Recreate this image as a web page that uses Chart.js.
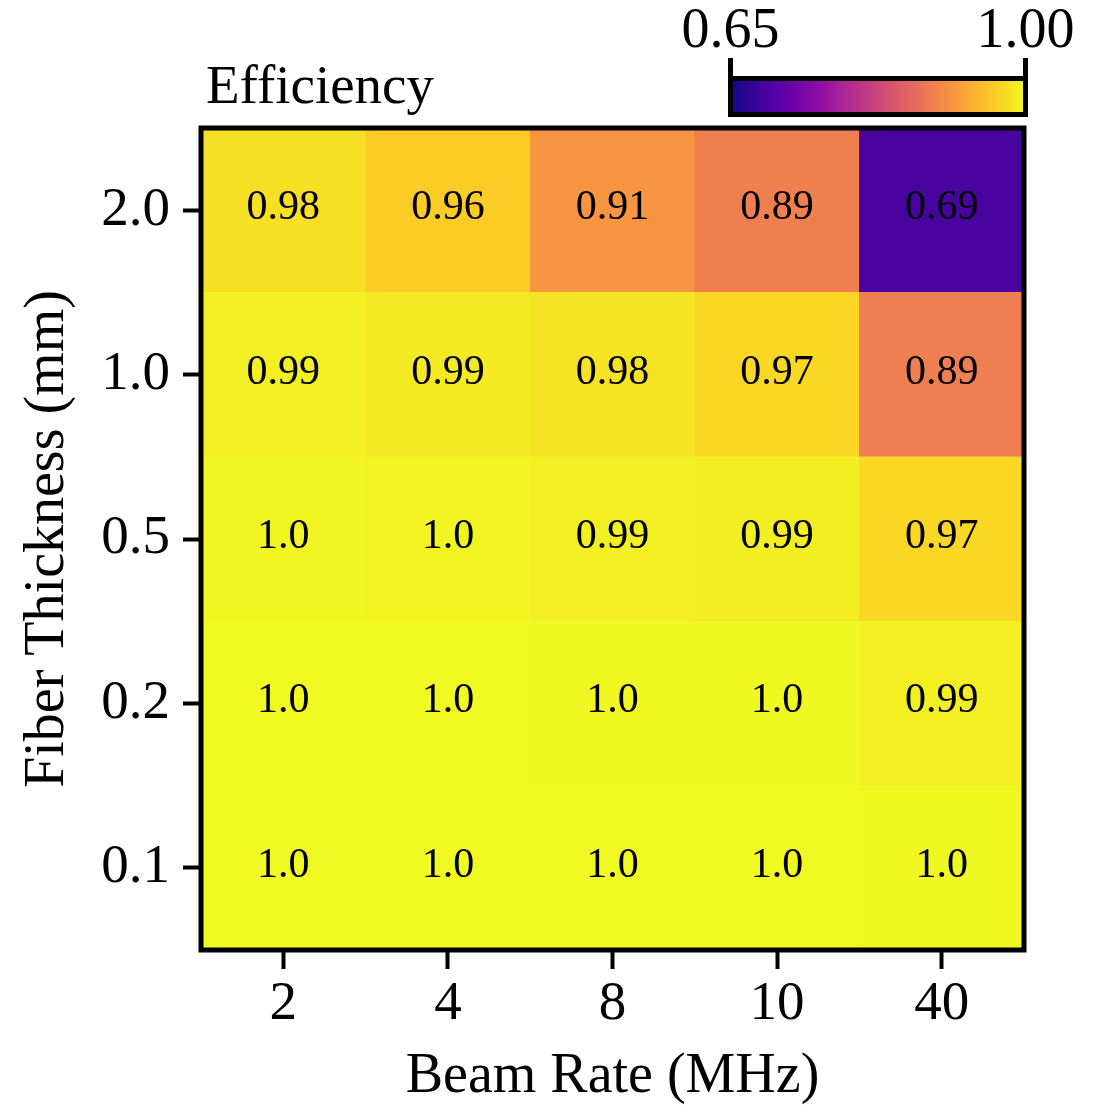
<!DOCTYPE html>
<html>
<head>
<meta charset="utf-8">
<script src="https://cdn.jsdelivr.net/npm/chart.js@4.4.1/dist/chart.umd.min.js"></script>
<style>
  body { margin: 0; background: #fff; }
  #wrap { width: 1102px; height: 1105px; }
</style>
</head>
<body>
<div id="wrap"><canvas id="heat" width="1102" height="1105"></canvas></div>
<script>
// --- data ---
const beamRates = ['2', '4', '8', '10', '40'];              // x categories (MHz)
const thickness = ['0.1', '0.2', '0.5', '1.0', '2.0'];      // y categories (mm), bottom to top
// efficiency, one row per thickness (same order as thickness)
const eff_01 = [1.000, 1.000, 1.000, 1.000, 0.999];
const eff_02 = [1.000, 1.000, 0.998, 0.999, 0.993];
const eff_05 = [0.997, 0.996, 0.993, 0.991, 0.972];
const eff_10 = [0.993, 0.988, 0.982, 0.972, 0.888];
const eff_20 = [0.979, 0.962, 0.912, 0.889, 0.692];
const efficiency = [eff_01, eff_02, eff_05, eff_10, eff_20];
const vmin = 0.65, vmax = 1.00;
const colorbarTicks = ['0.65', '1.00'];

const FONT = '"Liberation Serif", "Times New Roman", serif';

// plasma colormap stops
const plasma = ['#0d0887', '#41049d', '#6a00a8', '#8f0da4', '#b12a90', '#cc4778',
                '#e16462', '#f2844b', '#fca636', '#fcce25', '#f0f921'];
const hex = h => [1, 3, 5].map(i => parseInt(h.substr(i, 2), 16));

function plasmaColor(v) {
    let t = (v - vmin) / (vmax - vmin);
    t = Math.max(0, Math.min(1, t));
    const p = t * (plasma.length - 1);
    const i = Math.min(Math.floor(p), plasma.length - 2);
    const f = p - i;
    const a = hex(plasma[i]), b = hex(plasma[i + 1]);
    const c = a.map((x, k) => Math.round(x + (b[k] - x) * f));
    return `rgb(${c[0]},${c[1]},${c[2]})`;
}

// matplotlib-like label: round to 2 decimals, "1.0" for whole numbers
function cellLabel(v) {
    const r = Math.round(v * 100) / 100;
    return Number.isInteger(r) ? r.toFixed(1) : String(r);
}

// one stacked dataset per thickness row, each cell one unit tall
const datasets = thickness.map((t, r) => ({
    label: t,
    data: beamRates.map(() => 1),
    values: efficiency[r],
    backgroundColor: efficiency[r].map(plasmaColor),
    borderWidth: 0,
    categoryPercentage: 1,
    barPercentage: 1
}));

// cell text, frame, title and colorbar
const heatExtras = {
    id: 'heatExtras',
    afterDatasetsDraw(chart) {
        const ctx = chart.ctx;
        ctx.save();
        ctx.fillStyle = '#000';
        ctx.font = `42px ${FONT}`;
        ctx.textAlign = 'center';
        ctx.textBaseline = 'middle';
        chart.data.datasets.forEach((ds, i) => {
            chart.getDatasetMeta(i).data.forEach((bar, j) => {
                ctx.fillText(cellLabel(ds.values[j]), bar.x, (bar.y + bar.base) / 2 - 2);
            });
        });
        ctx.restore();
    },
    afterDraw(chart) {
        const ctx = chart.ctx;
        const a = chart.chartArea;
        ctx.save();
        // frame round the heatmap
        ctx.strokeStyle = '#000';
        ctx.lineWidth = 5;
        ctx.strokeRect(a.left, a.top, a.right - a.left, a.bottom - a.top);

        // title
        ctx.fillStyle = '#000';
        ctx.font = `55px ${FONT}`;
        ctx.textAlign = 'left';
        ctx.textBaseline = 'alphabetic';
        ctx.fillText('Efficiency', a.left + 5, a.top - 25);

        // colorbar
        const cbL = 730.5, cbR = a.right + 1.5, cbT = 78.5, cbB = 114.5;
        const grad = ctx.createLinearGradient(cbL, 0, cbR, 0);
        plasma.forEach((c, i) => grad.addColorStop(i / (plasma.length - 1), c));
        ctx.fillStyle = grad;
        ctx.fillRect(cbL, cbT, cbR - cbL, cbB - cbT);
        ctx.lineWidth = 5;
        ctx.strokeRect(cbL, cbT, cbR - cbL, cbB - cbT);
        ctx.beginPath();
        ctx.moveTo(cbL, cbT); ctx.lineTo(cbL, 58);
        ctx.moveTo(cbR, cbT); ctx.lineTo(cbR, 58);
        ctx.stroke();
        ctx.fillStyle = '#000';
        ctx.font = `56px ${FONT}`;
        ctx.textAlign = 'center';
        ctx.fillText(colorbarTicks[0], cbL, 47);
        ctx.fillText(colorbarTicks[1], cbR, 47);
        ctx.restore();
    }
};

new Chart(document.getElementById('heat'), {
    type: 'bar',
    data: { labels: beamRates, datasets: datasets },
    options: {
        responsive: false,
        animation: false,
        layout: { padding: { top: 128, right: 78, bottom: 0, left: 0 } },
        plugins: { legend: { display: false }, tooltip: { enabled: false } },
        scales: {
            x: {
                stacked: true,
                afterFit: s => { s.height = 155; },
                border: { display: false },
                grid: { offset: false, drawOnChartArea: false, tickLength: 19, tickWidth: 4, tickColor: '#000' },
                ticks: { color: '#000', padding: 3, font: { family: FONT, size: 55 } },
                title: {
                    display: true, text: 'Beam Rate (MHz)', color: '#000',
                    font: { family: FONT, size: 56, lineHeight: 1 }, padding: 0
                }
            },
            y: {
                stacked: true,
                min: 0, max: thickness.length,
                afterFit: s => { s.width = 201; },
                afterBuildTicks: s => { s.ticks = thickness.map((t, i) => ({ value: i + 0.5 })); },
                border: { display: false },
                grid: { drawOnChartArea: false, tickLength: 18, tickWidth: 4, tickColor: '#000' },
                ticks: {
                    color: '#000', padding: 13, font: { family: FONT, size: 55 },
                    callback: v => thickness[Math.floor(v)]
                },
                title: {
                    display: true, text: 'Fiber Thickness (mm)', color: '#000',
                    font: { family: FONT, size: 56, lineHeight: 1 }, padding: { top: 20, bottom: 0 }
                }
            }
        }
    },
    plugins: [heatExtras]
});
</script>
</body>
</html>
